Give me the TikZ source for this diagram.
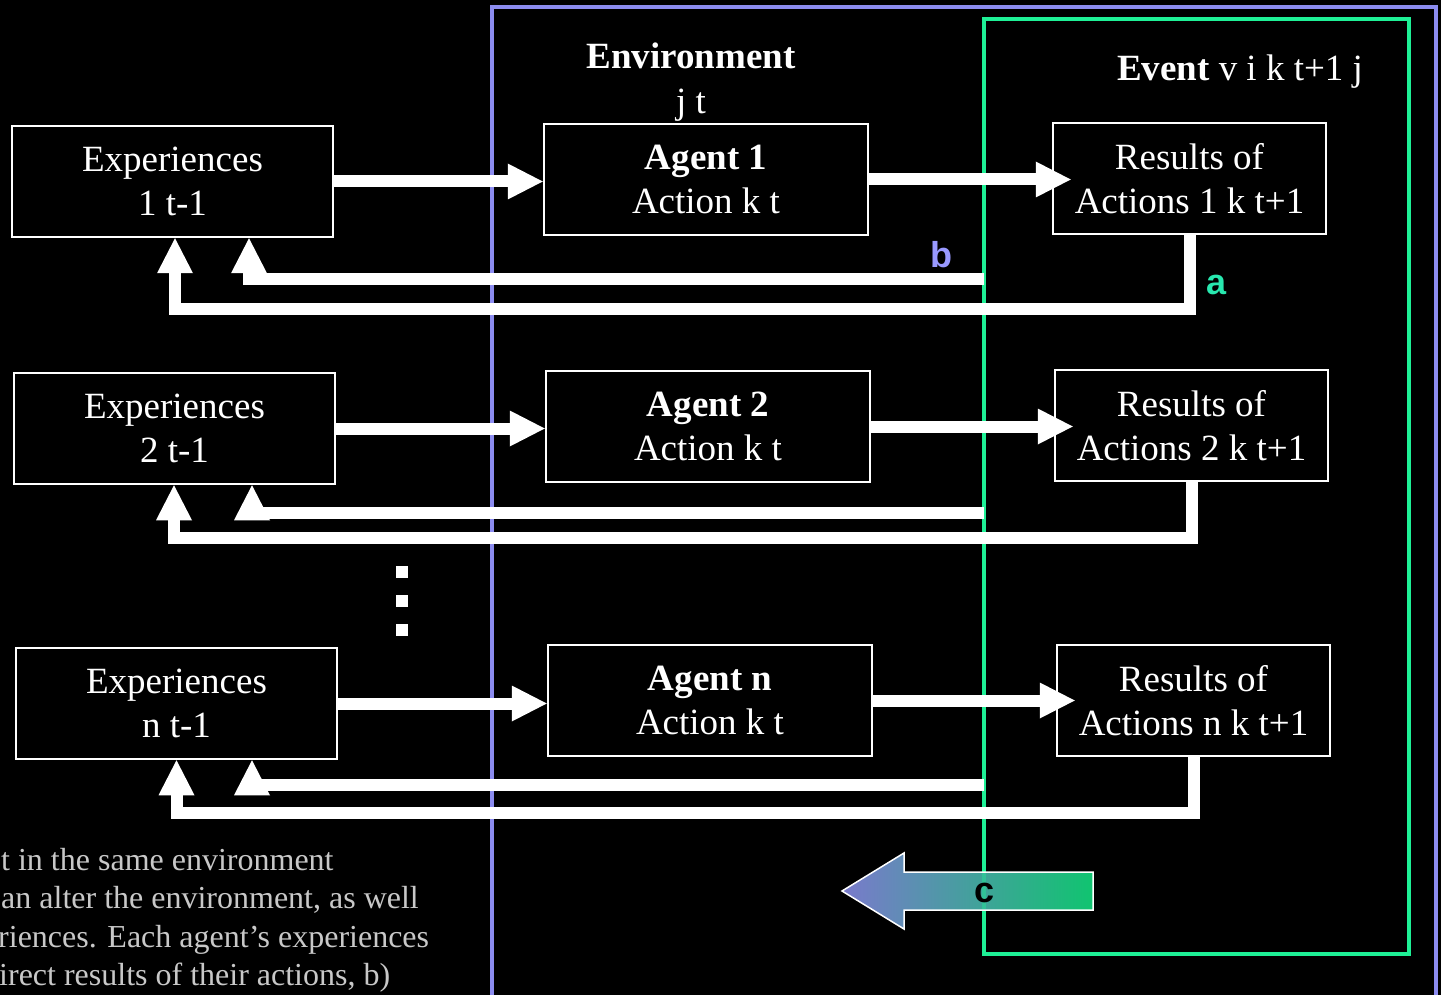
\documentclass[tikz,border=0pt]{standalone}
\usepackage{fontspec}
\setmainfont{Liberation Serif}
\newfontfamily\lsans{Liberation Sans}
\usetikzlibrary{arrows.meta}
\definecolor{envblue}{RGB}{140,140,240}
\definecolor{evgreen}{RGB}{30,240,150}
\definecolor{lblb}{RGB}{153,153,255}
\definecolor{lbla}{RGB}{40,232,175}
\definecolor{noteg}{RGB}{200,200,200}
\definecolor{cleft}{RGB}{122,122,204}
\definecolor{cright}{RGB}{16,196,112}
\tikzset{
  box/.style={draw=white, line width=2.5pt, fill=black, text=white, align=center,
    inner sep=0pt, minimum height=111pt, font=\fontsize{37}{44.4}\selectfont},
  expbox/.style={box, minimum width=321pt},
  agbox/.style={box, minimum width=324pt},
  resbox/.style={box, minimum width=273pt},
  blk/.style={white, line width=12pt, line join=miter,
    -{Triangle[length=35pt,width=36pt,line width=0pt]}},
  lbl/.style={font=\lsans\bfseries\fontsize{36}{40}\selectfont, inner sep=0pt},
  note/.style={anchor=base west, inner sep=0pt, text=noteg, font=\fontsize{32}{38.5}\selectfont}
}
\begin{document}
\begin{tikzpicture}[x=1pt,y=-1pt]
\clip (0,0) rectangle (1441,995);
\fill[black] (0,0) rectangle (1441,995);
% frames
\draw[envblue, line width=4pt] (492,7) rectangle (1436,1010);
\draw[evgreen, line width=4pt] (984,19) rectangle (1409,954);
% titles
\node[text=white, align=center, inner sep=0pt, font=\fontsize{37}{45}\selectfont] (envt) at (691,82) {\textbf{Environment}\\j t};
\node[text=white, inner sep=0pt, font=\fontsize{37}{44}\selectfont] (evt) at (1240,72) {\textbf{Event} v i k t+1 j};
% boxes
\node[expbox] (exp1) at (172.5,181.5) {Experiences\\1 t-1};
\node[expbox] (exp2) at (174.5,428.5) {Experiences\\2 t-1};
\node[expbox] (exp3) at (176.5,703.5) {Experiences\\n t-1};
\node[agbox] (ag1) at (706,179.5) {\textbf{Agent 1}\\Action k t};
\node[agbox] (ag2) at (708,426.5) {\textbf{Agent 2}\\Action k t};
\node[agbox] (ag3) at (710,700.5) {\textbf{Agent n}\\Action k t};
\node[resbox] (res1) at (1189.5,178.5) {Results of\\Actions 1 k t+1};
\node[resbox] (res2) at (1191.5,425.5) {Results of\\Actions 2 k t+1};
\node[resbox] (res3) at (1193.5,700.5) {Results of\\Actions n k t+1};
% helper coordinates
\coordinate (rt1) at ([xshift=19pt]res1.west);
\coordinate (rt2) at ([xshift=19pt]res2.west);
\coordinate (rt3) at ([xshift=19pt]res3.west);
\coordinate (ea1) at ([xshift=2.5pt]exp1.south);
\coordinate (ea2) at ([xshift=-0.5pt]exp2.south);
\coordinate (ea3) at (exp3.south);
\coordinate (eb1) at ([xshift=76.5pt]exp1.south);
\coordinate (eb2) at ([xshift=77.5pt]exp2.south);
\coordinate (eb3) at ([xshift=75.5pt]exp3.south);
\coordinate (b1) at (984,279);
\coordinate (b2) at (984,512.5);
\coordinate (b3) at (984,785);
% forward arrows
\draw[blk] (exp1.east) -- (exp1.east -| ag1.west);
\draw[blk] (exp2.east) -- (exp2.east -| ag2.west);
\draw[blk] (exp3.east) -- (exp3.east -| ag3.west);
\draw[blk] (ag1.east) -- (ag1.east -| rt1);
\draw[blk] (ag2.east) -- (ag2.east -| rt2);
\draw[blk] (ag3.east) -- (ag3.east -| rt3);
% feedback b
\draw[blk] (b1) -| (eb1);
\draw[blk] (b2) -| (eb2);
\draw[blk] (b3) -| (eb3);
% feedback a
\draw[blk] (res1.south) -- ++(0,73.5) -| (ea1);
\draw[blk] (res2.south) -- ++(0,56) -| (ea2);
\draw[blk] (res3.south) -- ++(0,56) -| (ea3);
% labels
\node[lbl, text=lblb] (lb) at (941,255) {b};
\node[lbl, text=lbla] (la) at (1216,285) {a};
% dots
\fill[white] (396,566) rectangle (408,578);
\fill[white] (396,595) rectangle (408,607);
\fill[white] (396,624) rectangle (408,636);
% c arrow
\path[draw=white, line width=1.5pt, left color=cleft, right color=cright]
  (842,891) -- (904,853) -- (904,872) -- (1093,872) -- (1093,910) -- (904,910) -- (904,929) -- cycle;
\draw[evgreen, line width=4pt, opacity=0.4] (984,873) -- (984,909);
\node[lbl, text=black] (lc) at (985,893) {c};
% note text
\node[note] (n1) at (1,870) {t in the same environment};
\node[note] (n2) at (1,908.5) {an alter the environment, as well};
\node[note] (n3) at (-2,947) {riences. Each agent’s experiences};
\node[note] (n4) at (-1,985.5) {irect results of their actions, b)};
\end{tikzpicture}
\end{document}
